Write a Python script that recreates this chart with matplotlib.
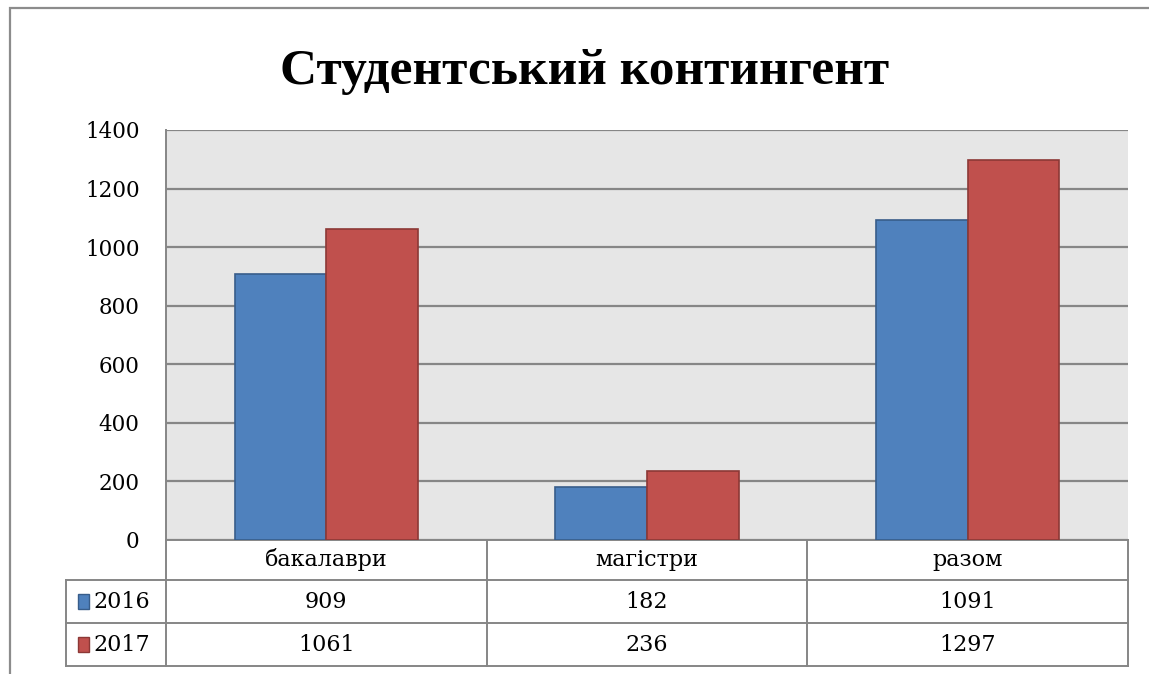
import matplotlib.pyplot as plt
import numpy as np
from matplotlib.patches import Rectangle

# Дані діаграми
categories = ['бакалаври', 'магістри', 'разом']
years = ['2016', '2017']
values_2016 = [909, 182, 1091]
values_2017 = [1061, 236, 1297]
yticks = [0, 200, 400, 600, 800, 1000, 1200, 1400]

colors = ['#4F81BD', '#C0504D']
edges = ['#385D8A', '#8C3836']
grid_color = '#868686'

plt.rcParams['font.family'] = ['DejaVu Serif']

W, H = 1149, 674
fig = plt.figure(figsize=(W / 100, H / 100), dpi=100)

# рамка діаграми
fig.patches.append(Rectangle((10 / W, -0.1), 1.2, 1 - 8 / H + 0.1, transform=fig.transFigure,
                             fill=False, edgecolor='#8C8C8C', linewidth=1.6))

fig.text(585 / W, 1 - 72 / H, 'Студентський контингент', ha='center', va='center',
         fontsize=37, fontweight='bold', family=['Liberation Serif', 'DejaVu Serif'])

# основна область графіка
px_l, px_r, px_t, px_b = 166, 1128, 130, 540
ax = fig.add_axes([px_l / W, 1 - px_b / H, (px_r - px_l) / W, (px_b - px_t) / H])
ax.set_facecolor('#E6E6E6')

n = len(categories)
x = np.arange(n) + 0.5
bw = 1 / 3.5
series = [values_2016, values_2017]
for i, vals in enumerate(series):
    ax.bar(x + (i - 0.5) * bw, vals, width=bw, color=colors[i], edgecolor=edges[i],
           linewidth=1.2, zorder=3)

ax.set_xlim(0, n)
ax.set_ylim(0, 1400)
ax.set_yticks(yticks)
ax.set_xticks([])
ax.tick_params(axis='y', length=0, pad=19, labelsize=15.5)
ax.yaxis.grid(True, color=grid_color, linewidth=1.6, zorder=0)
ax.set_axisbelow(True)
for s in ['top', 'right']:
    ax.spines[s].set_visible(False)
for s in ['left', 'bottom']:
    ax.spines[s].set_color(grid_color)
    ax.spines[s].set_linewidth(1.4)

# таблиця даних
t_l, t_b = 66, 666
lab_w = (px_l - t_l) / ((px_r - px_l) / n)
tax = fig.add_axes([t_l / W, 1 - t_b / H, (px_r - t_l) / W, (t_b - px_b) / H])
tax.set_xlim(-lab_w, n)
tax.set_ylim(0, 3)
tax.axis('off')

row_y = [3, 2.05, 1.02, 0]  # межі рядків
lc = grid_color
lw = 1.4
for xv in range(n + 1):
    tax.plot([xv, xv], [0, 3], color=lc, lw=lw, clip_on=False)
tax.plot([-lab_w, -lab_w], [0, row_y[1]], color=lc, lw=lw, clip_on=False)
for yv in row_y[1:]:
    tax.plot([-lab_w, n], [yv, yv], color=lc, lw=lw, clip_on=False)

fs = 16
for j, c in enumerate(categories):
    tax.text(j + 0.5, (row_y[0] + row_y[1]) / 2, c, ha='center', va='center', fontsize=fs)

for i, (yr, vals) in enumerate(zip(years, series)):
    yc = (row_y[i + 1] + row_y[i + 2]) / 2
    tax.add_patch(Rectangle((-lab_w + 0.037, yc - 0.17), 0.036, 0.34, facecolor=colors[i],
                            edgecolor=edges[i], linewidth=1, clip_on=False))
    tax.text(-lab_w + 0.087, yc, yr, ha='left', va='center', fontsize=fs)
    for j, v in enumerate(vals):
        tax.text(j + 0.5, yc, str(v), ha='center', va='center', fontsize=fs)

fig.savefig('out.png', dpi=100)
